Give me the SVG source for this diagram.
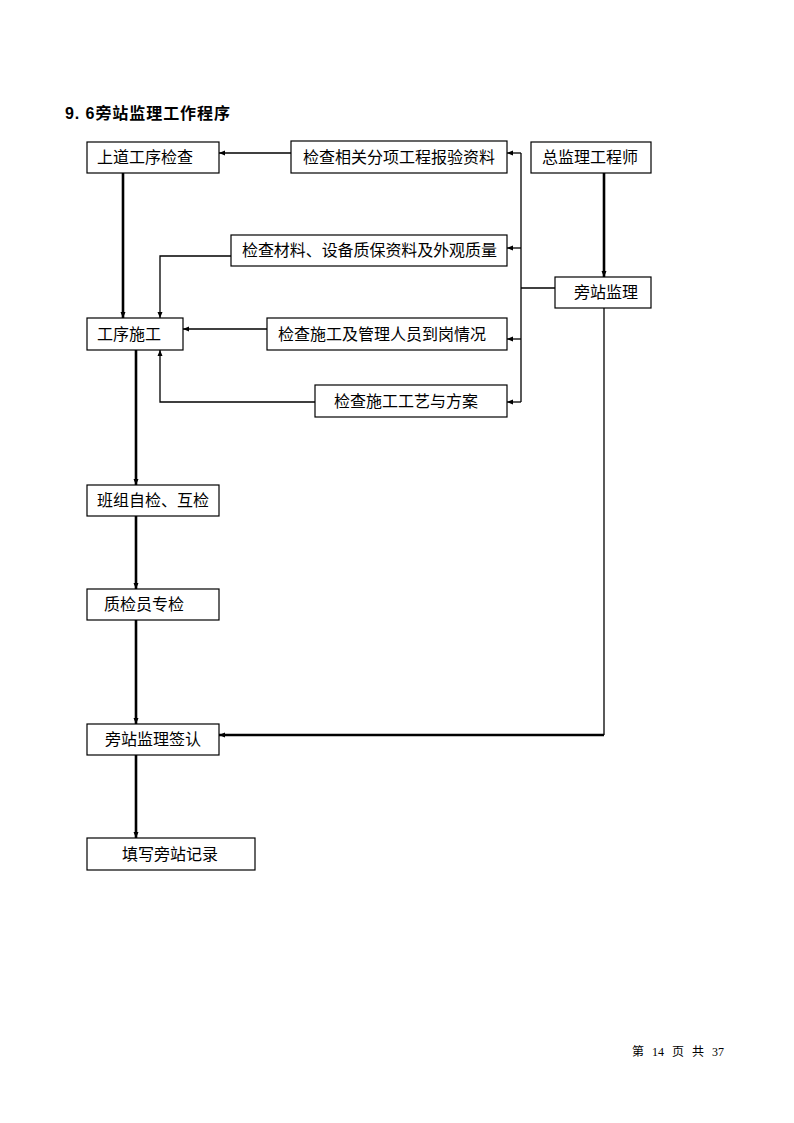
<svg xmlns="http://www.w3.org/2000/svg" width="794" height="1123" viewBox="0 0 794 1123">
<style>
.box{fill:#fff;stroke:#000;stroke-width:1.2}
.t{font-family:"Liberation Sans","Noto Sans CJK SC",sans-serif;font-size:16px;fill:#000}
.thin{fill:none;stroke:#000;stroke-width:1.3}
.thick{fill:none;stroke:#000;stroke-width:2.6}
.title{font-family:"Liberation Sans","Noto Sans CJK SC",sans-serif;font-size:16px;font-weight:bold;fill:#000}
.ft{font-family:"Liberation Serif","Noto Sans CJK SC",serif;font-size:12px;fill:#000}
</style>
<defs>
<marker id="ah" viewBox="0 0 6 6" refX="6" refY="3" markerWidth="6" markerHeight="6" markerUnits="userSpaceOnUse" orient="auto">
<path d="M0,0.5 L6,3 L0,5.5 z" fill="#000"/>
</marker>
</defs>
<rect width="794" height="1123" fill="#fff"/>
<text class="title" x="65" y="119" textLength="165" lengthAdjust="spacing">9. 6旁站监理工作程序</text>

<g id="connectors">
<path class="thick" d="M123,173 V318" marker-end="url(#ah)"/>
<path class="thin" d="M231,256 H160 V318" marker-end="url(#ah)"/>
<path class="thin" d="M267,329 H183" marker-end="url(#ah)"/>
<path class="thin" d="M315,402 H160 V350" marker-end="url(#ah)"/>
<path class="thin" d="M291,153 H219" marker-end="url(#ah)"/>
<path class="thick" d="M136,350 V485" marker-end="url(#ah)"/>
<path class="thick" d="M136,516 V589" marker-end="url(#ah)"/>
<path class="thick" d="M136,620 V724" marker-end="url(#ah)"/>
<path class="thick" d="M136,755 V838" marker-end="url(#ah)"/>
<path class="thick" d="M604,173 V277" marker-end="url(#ah)"/>
<path class="thin" d="M555,288 H521"/>
<path class="thin" d="M521,153 V402"/>
<path class="thin" d="M521,153 H507" marker-end="url(#ah)"/>
<path class="thin" d="M521,248 H507" marker-end="url(#ah)"/>
<path class="thin" d="M521,339 H507" marker-end="url(#ah)"/>
<path class="thin" d="M521,402 H507" marker-end="url(#ah)"/>
<path class="thin" d="M604,308 V735"/>
<path class="thick" d="M604,735 H219" marker-end="url(#ah)"/>
</g>

<g id="n1"><rect class="box" x="87" y="142" width="132" height="31"/><text class="t" x="97" y="163">上道工序检查</text></g>
<g id="n2"><rect class="box" x="291" y="141" width="216" height="32"/><text class="t" x="303" y="163">检查相关分项工程报验资料</text></g>
<g id="n3"><rect class="box" x="531" y="142" width="120" height="31"/><text class="t" x="542" y="163">总监理工程师</text></g>
<g id="n4"><rect class="box" x="231" y="235" width="276" height="31"/><text class="t" x="242" y="256" textLength="255" lengthAdjust="spacing">检查材料、设备质保资料及外观质量</text></g>
<g id="n5"><rect class="box" x="555" y="277" width="96" height="31"/><text class="t" x="574" y="298">旁站监理</text></g>
<g id="n6"><rect class="box" x="87" y="318" width="96" height="32"/><text class="t" x="97" y="340">工序施工</text></g>
<g id="n7"><rect class="box" x="267" y="318" width="240" height="32"/><text class="t" x="278" y="340">检查施工及管理人员到岗情况</text></g>
<g id="n8"><rect class="box" x="315" y="385" width="192" height="32"/><text class="t" x="334" y="407">检查施工工艺与方案</text></g>
<g id="n9"><rect class="box" x="87" y="485" width="132" height="31"/><text class="t" x="97" y="506">班组自检、互检</text></g>
<g id="n10"><rect class="box" x="87" y="589" width="132" height="31"/><text class="t" x="104" y="610">质检员专检</text></g>
<g id="n11"><rect class="box" x="87" y="724" width="132" height="31"/><text class="t" x="105" y="745">旁站监理签认</text></g>
<g id="n12"><rect class="box" x="87" y="838" width="168" height="32"/><text class="t" x="122" y="860">填写旁站记录</text></g>

<g id="footer">
<text class="ft" x="632" y="1056">第</text>
<text class="ft" x="652" y="1056">14</text>
<text class="ft" x="672" y="1056">页</text>
<text class="ft" x="692" y="1056">共</text>
<text class="ft" x="712" y="1056">37</text>
</g>
</svg>
